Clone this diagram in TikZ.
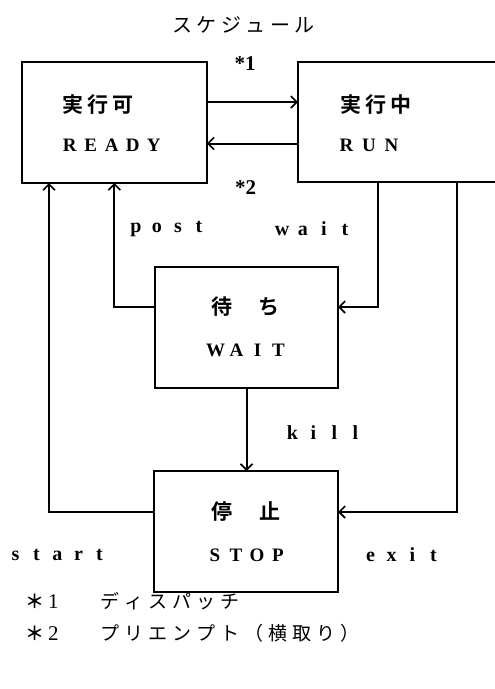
\documentclass[tikz,border=0pt]{standalone}
\usepackage{fontspec}
\usetikzlibrary{arrows.meta}
\newfontfamily\jp{Noto Sans CJK JP}[BoldFont={Noto Sans CJK JP Bold}]
\newfontfamily\ser{Liberation Serif}
\makeatletter
\newcommand\pitched[2]{\@tfor\pch:=#2\do{\makebox[#1][c]{\pch}}}
\makeatother
\tikzset{
  box/.style={draw, line width=2pt, inner sep=0pt, outer sep=0pt},
  conn/.style={line width=2pt},
  arr/.style={conn, -{Straight Barb[length=6pt,width=12pt,line width=1.6pt]}},
  jtxt/.style={inner sep=0pt, font=\jp\bfseries\fontsize{21}{21}\selectfont},
  etxt/.style={inner sep=0pt, font=\ser\bfseries\fontsize{19}{19}\selectfont},
  ltxt/.style={inner sep=0pt, font=\ser\bfseries\fontsize{20}{20}\selectfont},
  note/.style={inner sep=0pt, font=\ser\bfseries\fontsize{21}{21}\selectfont},
  ftxt/.style={inner sep=0pt, font=\jp\fontsize{19}{19}\selectfont},
}
\begin{document}
\begin{tikzpicture}[x=1pt,y=-1pt]
\useasboundingbox (0,0) rectangle (495,689);
\clip (0,0) rectangle (495,689);
% boxes
\node[box, minimum width=185.3pt, minimum height=121pt] (ready) at (114.3,122.5) {};
\node[box, minimum width=207pt, minimum height=120pt] (run) at (401.5,122) {};
\node[box, minimum width=183pt, minimum height=121pt] (wait) at (246.5,327.5) {};
\node[box, minimum width=184pt, minimum height=121pt] (stop) at (246,531.5) {};
% title
\node[ftxt, font=\jp\fontsize{20}{20}\selectfont] (title) at (243.5,25) {\pitched{24.5pt}{スケジュール}};
% box texts
\node[jtxt, anchor=west] (readyJ) at (60,105) {\pitched{25pt}{実行可}};
\node[etxt, anchor=west] (readyE) at (59,145) {\pitched{21pt}{READY}};
\node[jtxt, anchor=west] (runJ) at (338,105) {\pitched{25pt}{実行中}};
\node[etxt, anchor=west] (runE) at (335,145) {\pitched{22.5pt}{RUN}};
\node[jtxt] (waitJ) at (245.5,307) {\pitched{24pt}{待　ち}};
\node[etxt] (waitE) at (247,350) {\pitched{21pt}{WAIT}};
\node[jtxt] (stopJ) at (246,512) {\pitched{24pt}{停　止}};
\node[etxt] (stopE) at (246.5,555) {\pitched{21pt}{STOP}};
% connectors
\draw[arr] ([yshift=20.5pt]ready.east) -- ([yshift=20.5pt]ready.east -| run.west);
\draw[arr] ([yshift=-21.5pt]run.west) -- ([yshift=-21.5pt]run.west -| ready.east);
\draw[arr] ([yshift=20.5pt]wait.west) -| (ready.south);
\draw[arr] ([yshift=19.5pt]stop.west) -| ([xshift=-65.3pt]ready.south);
\draw[arr] ([xshift=-23.5pt]run.south) |- ([yshift=20.5pt]wait.east);
\draw[arr] ([xshift=55.5pt]run.south) |- ([yshift=19.5pt]stop.east);
\draw[arr] (wait.south) -- (wait.south |- stop.north);
% connector labels
\node[note] (n1) at (245,64) {*1};
\node[note] (n2) at (245.5,188) {*2};
\node[ltxt] (lpost) at (167.5,229) {\pitched{21pt}{post}};
\node[ltxt] (lwait) at (313.5,229) {\pitched{21pt}{wait}};
\node[ltxt] (lkill) at (324,433) {\pitched{21pt}{kill}};
\node[ltxt] (lstart) at (57.5,555) {\pitched{21pt}{start}};
\node[ltxt] (lexit) at (402,555) {\pitched{21pt}{exit}};
% footnotes
\node[ftxt, anchor=west] (f1a) at (25,601) {{\bfseries ＊}\hspace{4pt}{\ser\fontsize{21}{21}\selectfont 1}};
\node[ftxt, anchor=west] (f1b) at (98,601) {\pitched{24pt}{ディスパッチ}};
\node[ftxt, anchor=west] (f2a) at (25,633) {{\bfseries ＊}\hspace{4pt}{\ser\fontsize{21}{21}\selectfont 2}};
\node[ftxt, anchor=west] (f2b) at (98,633) {\pitched{24pt}{プリエンプト（横取り）}};
\end{tikzpicture}
\end{document}
